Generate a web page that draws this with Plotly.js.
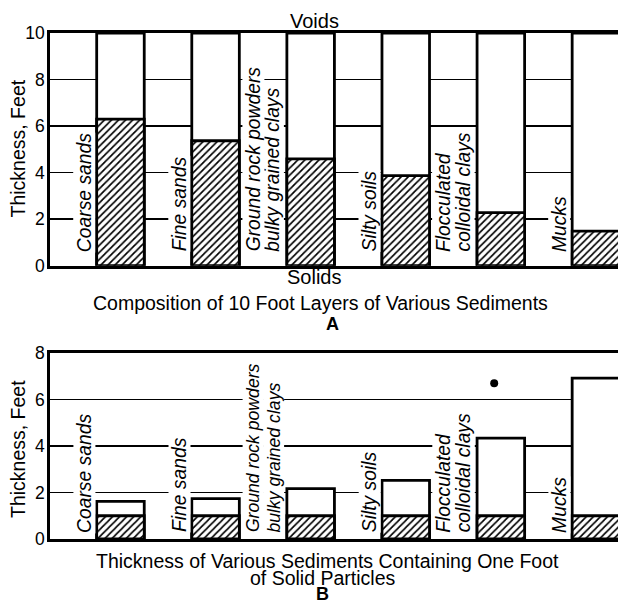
<!DOCTYPE html>
<html><head><meta charset="utf-8">
<script src="https://cdn.plot.ly/plotly-3.0.1.min.js"></script>
<style>html,body{margin:0;padding:0;background:#fff;overflow:hidden}</style>
</head><body><div id="chart" style="width:618px;height:605px"></div>
<script>
// ---- data ----
const categories = ["Coarse sands", "Fine sands", "Ground rock powders|bulky grained clays", "Silty soils", "Flocculated|colloidal clays", "Mucks"];
const layerTotalA = [10, 10, 10, 10, 10, 10];          // A: 10-foot layer (voids + solids)
const solidsA = [6.3, 5.37, 4.59, 3.87, 2.28, 1.49];   // A: thickness of solids, ft
const totalB = [1.62, 1.74, 2.17, 2.52, 4.34, 6.92];   // B: sediment thickness holding 1 ft of solids
const solidsB = [1, 1, 1, 1, 1, 1];                    // B: one foot of solid particles
const markX = [4.93];
const markY = [6.7];
const yTicksA = [0, 2, 4, 6, 8, 10];
const yTicksB = [0, 2, 4, 6, 8];

// ---- chart ----
const xs = categories.map((c, i) => i + 1);
const BW = 0.5, LW = 2.8;
const FONT = "Liberation Sans, Arial, sans-serif";
const LABEL_SIZE = 19.3;

const cv = document.createElement('canvas').getContext('2d');
function textWidth(t, size) {
  cv.font = 'italic ' + size + 'px "Liberation Sans"';
  return cv.measureText(t).width;
}

function openBar(y, xa, ya) {
  return {type: 'bar', x: xs, y: y, width: BW, xaxis: xa, yaxis: ya,
    marker: {color: 'white', line: {color: 'black', width: LW}}, hoverinfo: 'skip'};
}
function hatchBar(y, xa, ya) {
  return {type: 'bar', x: xs, y: y, width: BW, xaxis: xa, yaxis: ya,
    marker: {color: 'white', line: {color: 'black', width: LW},
      pattern: {shape: '/', fgcolor: 'black', bgcolor: 'white', size: 5, solidity: 0.34}},
    hoverinfo: 'skip'};
}

const data = [
  openBar(layerTotalA, 'x', 'y'), hatchBar(solidsA, 'x', 'y'),
  openBar(totalB, 'x2', 'y2'), hatchBar(solidsB, 'x2', 'y2'),
  {type: 'scatter', mode: 'markers', x: markX, y: markY, xaxis: 'x2', yaxis: 'y2',
    marker: {color: 'black', size: 8}, hoverinfo: 'skip'}
];

const annotations = [];
function addLabels(xref, yref, yshift, panelPx) {
  categories.forEach((c, i) => {
    const lines = c.split('|');
    const shifts = lines.length === 1 ? [11] : [-10, 10];
    const longest = Math.max(...lines.map(t => textWidth(t, LABEL_SIZE)));
    const room = panelPx - yshift - 12;
    const size = longest > room ? LABEL_SIZE * room / longest : LABEL_SIZE;
    // second line first so the first line's background sits on top
    for (let k = lines.length - 1; k >= 0; k--) {
      annotations.push({xref: xref, yref: yref, x: xs[i] - 0.5, y: 0,
        xanchor: 'center', yanchor: 'bottom', xshift: shifts[k], yshift: yshift,
        text: lines[k], textangle: -90, showarrow: false, bgcolor: 'white', borderpad: 0,
        font: {family: FONT, size: size, style: 'italic', color: 'black'}});
    }
  });
}
addLabels('x', 'y', 13, 232.7);
addLabels('x2', 'y2', 5.5, 186);

function note(text, x, y, size, bold, angle) {
  annotations.push({xref: 'paper', yref: 'paper', x: x, y: y, xanchor: 'center', yanchor: 'middle',
    text: text, showarrow: false, textangle: angle || 0,
    font: {family: FONT, size: size, color: 'black', weight: bold ? 'bold' : 'normal'}});
}
note('Voids', 0.4657, 1.0237, 20);
note('Solids', 0.4648, 0.5178, 20);
note('Composition of 10 Foot Layers of Various Sediments', 0.4762, 0.4664, 19.5);
note('A', 0.4965, 0.4249, 18, true);
note('Thickness of Various Sediments Containing One Foot', 0.4877, -0.0435, 19.5);
note('of Solid Particles', 0.4789, -0.0761, 19.5);
note('B', 0.4789, -0.1086, 18, true);
// y-axis titles
note('Thickness, Feet', -0.0555, 0.7727, 19.5, false, -90);
note('Thickness, Feet', -0.0563, 0.1779, 19.5, false, -90);

function xAxis(anchor) {
  return {domain: [0, 1], range: [0.259, 6.232], anchor: anchor, showline: true, linecolor: 'black',
    linewidth: LW, mirror: true, showgrid: false, zeroline: false, showticklabels: false, ticks: '', fixedrange: true};
}
function yAxis(domain, range, ticks, anchor) {
  return {domain: domain, range: range, anchor: anchor, tickvals: ticks, ticktext: ticks.map(String),
    showline: true, linecolor: 'black', linewidth: LW, showgrid: true, gridcolor: 'black', gridwidth: 1.5,
    zeroline: false, ticks: '', tickfont: {family: FONT, size: 17.5, color: 'black'},
    ticklabelstandoff: -1, fixedrange: true};
}

const layout = {
  width: 618, height: 605, margin: {l: 50, r: 0, t: 33, b: 66},
  paper_bgcolor: 'white', plot_bgcolor: 'white', barmode: 'overlay', showlegend: false,
  xaxis: xAxis('y'), yaxis: yAxis([0.5401, 1], [0, 10], yTicksA, 'x'),
  xaxis2: xAxis('y2'), yaxis2: yAxis([0, 0.3676], [0, 8], yTicksB, 'x2'),
  annotations: annotations
};

Plotly.newPlot('chart', data, layout, {displayModeBar: false, staticPlot: true});
</script></body></html>
